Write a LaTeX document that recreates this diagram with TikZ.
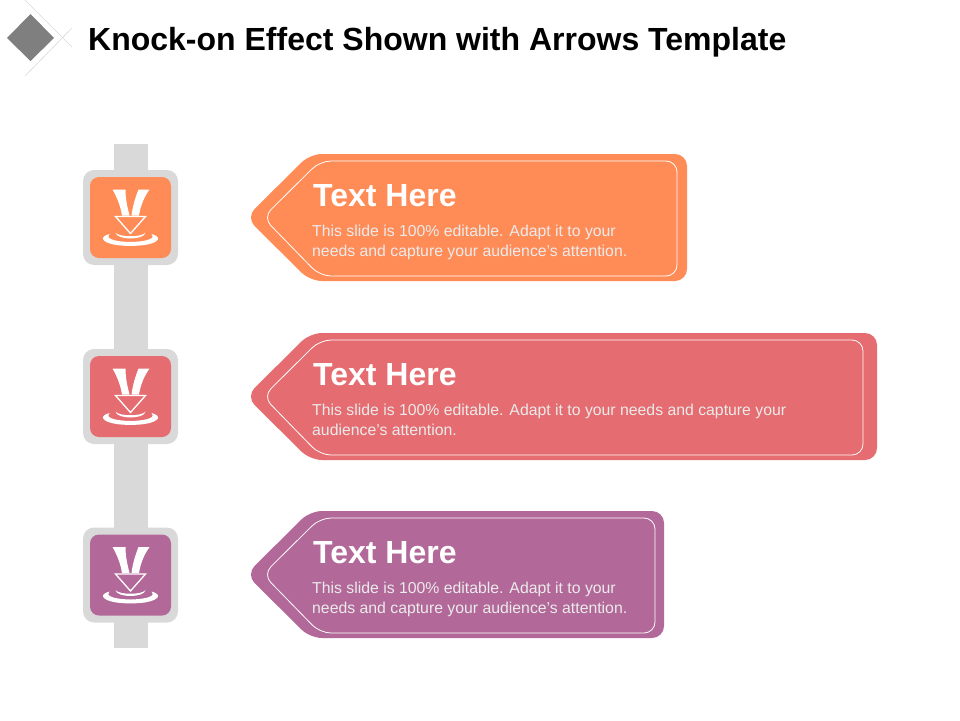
\documentclass[tikz,border=0pt]{standalone}
\usepackage{fontspec}
\setmainfont{Liberation Sans}
\definecolor{orangebox}{HTML}{FF8C57}
\definecolor{redbox}{HTML}{E56C70}
\definecolor{purplebox}{HTML}{B26898}
\definecolor{barcol}{HTML}{D9D9D9}
\definecolor{diamondcol}{HTML}{7F7F7F}
\definecolor{rulecol}{HTML}{D9D9D9}
\tikzset{
	headtext/.style={text=white,anchor=west,inner sep=0pt,font=\bfseries\fontsize{32}{34}\selectfont},
	bodytext/.style={text=white!92!black,anchor=north west,inner sep=0pt,align=left,font=\fontsize{15.8}{19.5}\selectfont},
	iconline/.style={draw=white,line width=1.3pt,line join=miter}
}
\newcommand{\arrowicon}[2]{% centre, colour
	\begin{scope}[shift={#1}]
		\fill[barcol,rounded corners=11] (-47.5,-47.5) rectangle (47.5,47.5);
		\fill[#2,rounded corners=9] (-40.5,-40.5) rectangle (40.5,40.5);
		\fill[white] (-18,-28)--(-5,-28) .. controls (-5,-18) and (-3,-10) .. (-1,-2)--(-8.5,-2) .. controls (-10,-12) and (-14,-21) .. (-18,-28)--cycle;
		\fill[white] (19,-28)--(8,-28) .. controls (4,-18) and (2,-10) .. (1,-2)--(8.5,-2) .. controls (10,-12) and (14,-21) .. (19,-28)--cycle;
		\draw[iconline] (-15,-1)--(15,-1)--(0,16)--cycle;
		\fill[white] (-21,16.5) .. controls (-31,19) and (-30,25) .. (-14,27.5) .. controls (-6,28.7) and (6,28.7) .. (14,27.5) .. controls (30,25) and (31,19) .. (21,16.5) .. controls (25,20) and (20,24) .. (0,24.5) .. controls (-20,24) and (-25,20) .. (-21,16.5)--cycle;
		\fill[white] (-15,15) .. controls (-12,20) and (12,20) .. (15,15) .. controls (14,23) and (-14,23) .. (-15,15)--cycle;
	\end{scope}
}
\newcommand{\callout}[5]{% top, right outer, right inner, colour, text
	\fill[#4,rounded corners=12] (246,#1+63.5)--(310,#1)--(#2,#1)--(#2,#1+127)--(310,#1+127)--cycle;
	\draw[white,line width=.8pt,rounded corners=11] (263,#1+63.5)--(320,#1+7)--(#3,#1+7)--(#3,#1+122)--(320,#1+122)--cycle;
	\node[headtext] (head#1) at (313,#1+42) {Text Here};
	\node[bodytext] (body#1) at (312,#1+71) {#5};
}
\begin{document}
\begin{tikzpicture}[x=1pt,y=-1pt]
	\useasboundingbox (0,0) rectangle (960,720);
	% header mark
	\fill[diamondcol] (30.5,14)--(54,38)--(30.5,61)--(7,38)--cycle;
	\draw[rulecol,line width=.6pt] (25,0)--(72,47);
	\draw[rulecol,line width=.6pt] (25,76)--(72,28);
	\node[anchor=west,inner sep=0pt,font=\bfseries\fontsize{32}{34}\selectfont] (title) at (88,42) {Knock-on Effect Shown with Arrows Template};
	% bar behind the icons
	\fill[barcol] (114,144) rectangle (148,648);
	\arrowicon{(130.5,217.5)}{orangebox}
	\arrowicon{(130.5,396.5)}{redbox}
	\arrowicon{(130.5,575)}{purplebox}
	% boxes
	\callout{154}{687}{677}{orangebox}{This slide is 100\% editable. Adapt it to your\\needs and capture your audience's attention.}
	\callout{333}{877}{863}{redbox}{This slide is 100\% editable. Adapt it to your needs and capture your\\audience's attention.}
	\callout{511}{664}{655}{purplebox}{This slide is 100\% editable. Adapt it to your\\needs and capture your audience's attention.}
\end{tikzpicture}
\end{document}
